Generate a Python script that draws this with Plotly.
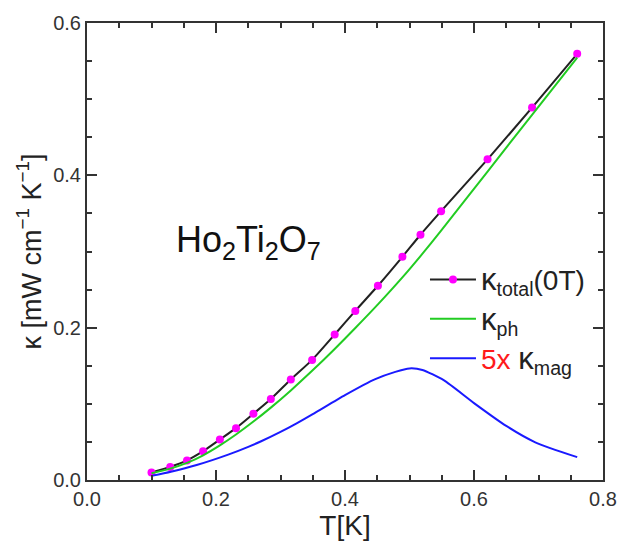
import plotly.graph_objects as go

# Measured total thermal conductivity, zero field
t_total = [0.100, 0.129, 0.155, 0.180, 0.206, 0.231, 0.258, 0.285, 0.316, 0.349,
           0.384, 0.416, 0.451, 0.489, 0.517, 0.549, 0.621, 0.690, 0.760]
k_total = [0.0099, 0.0172, 0.0257, 0.0378, 0.0532, 0.0681, 0.0870, 0.1063, 0.1320, 0.1577,
           0.1910, 0.2220, 0.2550, 0.2930, 0.3220, 0.3530, 0.4210, 0.4890, 0.5595]

# Phonon contribution
t_ph = [0.100, 0.129, 0.155, 0.180, 0.206, 0.231, 0.258, 0.285, 0.316, 0.349,
        0.384, 0.416, 0.451, 0.489, 0.517, 0.549, 0.621, 0.690, 0.760]
k_ph = [0.0088, 0.0149, 0.0224, 0.0324, 0.0454, 0.0597, 0.0767, 0.0950, 0.1176, 0.1433,
        0.1720, 0.1995, 0.2305, 0.2660, 0.2940, 0.3275, 0.4050, 0.4795, 0.5545]

# Magnetic contribution, scaled by 5
t_mag = [0.100, 0.130, 0.170, 0.220, 0.250, 0.270, 0.300, 0.325, 0.350, 0.400,
         0.447, 0.478, 0.500, 0.520, 0.553, 0.600, 0.650, 0.695, 0.760]
k_mag5 = [0.0054, 0.0108, 0.0196, 0.0336, 0.0435, 0.0509, 0.0632, 0.0745, 0.0865, 0.1115,
          0.1325, 0.1420, 0.1465, 0.1445, 0.1310, 0.1010, 0.0710, 0.0495, 0.0300]

x_ticks = [0.0, 0.2, 0.4, 0.6, 0.8]
y_ticks = [0.0, 0.2, 0.4, 0.6]

FONT = "Liberation Sans, Arial, sans-serif"
AXIS_COLOR = "#333333"
KAPPA = "<span style='font-size:31px'>κ</span>"

fig = go.Figure()

fig.add_trace(go.Scatter(
    x=t_total, y=k_total, mode="lines+markers",
    name=KAPPA + "<sub>total</sub>(0T)",
    line=dict(color="#222222", width=2, shape="spline", smoothing=0.6),
    marker=dict(color="#ff00ff", size=8),
    legendgroup="a",
))
fig.add_trace(go.Scatter(
    x=t_ph, y=k_ph, mode="lines",
    name=KAPPA + "<sub>ph</sub>",
    line=dict(color="#22cc22", width=2, shape="spline", smoothing=0.6),
    legendgroup="b",
))
fig.add_trace(go.Scatter(
    x=t_mag, y=k_mag5, mode="lines",
    name="<span style='color:#ff1a1a'>5x</span> " + KAPPA + "<sub>mag</sub>",
    line=dict(color="#1a1aff", width=2, shape="spline", smoothing=0.6),
    legendgroup="c",
))

axis_common = dict(
    showline=True, linewidth=2, linecolor=AXIS_COLOR, mirror="ticks",
    ticks="inside", ticklen=10, tickwidth=1.5, tickcolor=AXIS_COLOR,
    showgrid=False, zeroline=False,
    tickfont=dict(family=FONT, size=20, color="#333333"),
    tickformat=".1f",
)

fig.update_xaxes(
    range=[0, 0.8], tickvals=x_ticks,
    minor=dict(dtick=0.05, ticks="inside", ticklen=5, tickcolor=AXIS_COLOR, tickwidth=1.5),
    title=dict(text="T[K]", font=dict(family=FONT, size=28, color="#222222"), standoff=6),
    **axis_common,
)
fig.update_yaxes(
    range=[0, 0.6], tickvals=y_ticks,
    minor=dict(dtick=0.05, ticks="inside", ticklen=5, tickcolor=AXIS_COLOR, tickwidth=1.5),
    title=dict(text="κ [mW cm<sup>−1</sup> K<sup>−1</sup>]",
               font=dict(family=FONT, size=27, color="#222222"), standoff=4),
    **axis_common,
)

fig.add_annotation(
    x=0.25, y=0.313, xref="x", yref="y",
    text="Ho<sub>2</sub>Ti<sub>2</sub>O<sub>7</sub>",
    showarrow=False,
    font=dict(family=FONT, size=36, color="#111111"),
)

fig.update_layout(
    width=629, height=548,
    margin=dict(l=87, r=17, t=14, b=67),
    paper_bgcolor="white", plot_bgcolor="white",
    showlegend=True,
    legend=dict(
        x=0.655, y=0.493, xanchor="left", yanchor="top",
        bgcolor="rgba(0,0,0,0)",
        font=dict(family=FONT, size=28, color="#222222"),
        tracegroupgap=0,
        itemwidth=46,
    ),
)

fig.write_html("out.html")
